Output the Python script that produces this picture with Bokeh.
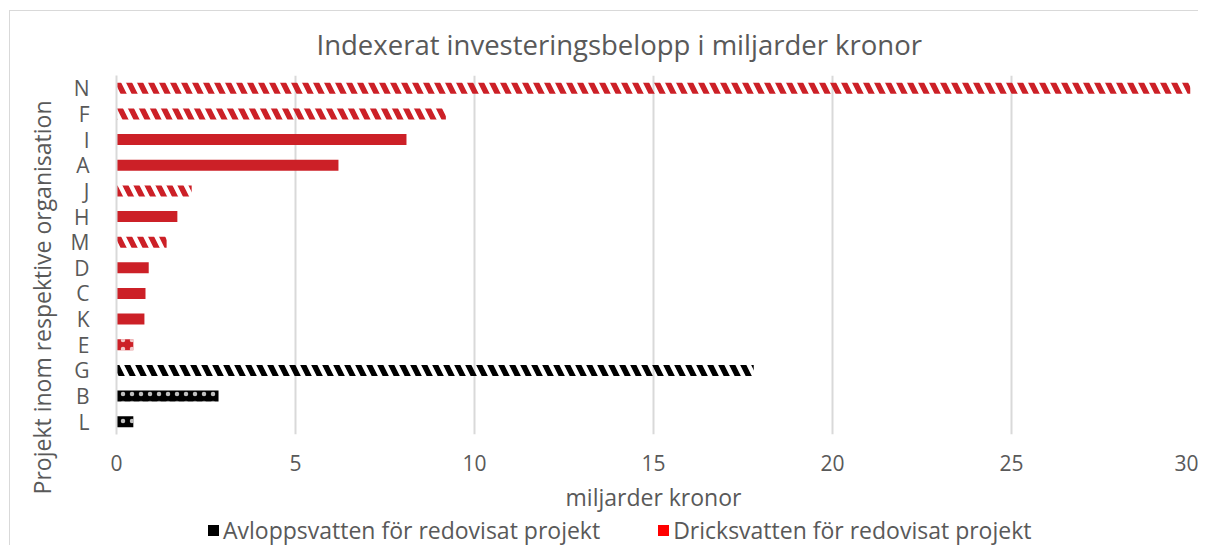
from bokeh.plotting import figure
from bokeh.layouts import column
from bokeh.models import ColumnDataSource, FactorRange, Range1d, FixedTicker, Div, Title
from bokeh.embed import file_html
from bokeh.resources import INLINE

# ---- data (top to bottom as in the chart) ----
projects = ["N", "F", "I", "A", "J", "H", "M", "D", "C", "K", "E", "G", "B", "L"]
values = [30.0, 9.2, 8.1, 6.2, 2.1, 1.7, 1.4, 0.9, 0.81, 0.78, 0.47, 17.8, 2.85, 0.47]
water_type = ["dricks"] * 11 + ["avlopp"] * 3
pattern_group = ["stripes", "stripes", "solid", "solid", "stripes", "solid", "stripes",
                 "solid", "solid", "solid", "dots", "stripes", "dots", "dots"]
x_ticks = [0, 5, 10, 15, 20, 25, 30]
title_text = "Indexerat investeringsbelopp i miljarder kronor"
x_label = "miljarder kronor"
y_label = "Projekt inom respektive organisation"
legend_labels = ["Avloppsvatten för redovisat projekt", "Dricksvatten för redovisat projekt"]
legend_colors = ["#000000", "#FF0000"]

BAR_RED = "#CC2027"
BAR_BLACK = "#000000"
TEXT = "#595959"
GRID = "#D9D9D9"
FONT = "Open Sans"

colors = [BAR_RED if t == "dricks" else BAR_BLACK for t in water_type]

p = figure(
    width=1188, height=504,
    y_range=FactorRange(factors=list(reversed(projects))),
    x_range=Range1d(0, 30),
    output_backend="svg", toolbar_location=None,
    min_border_left=106, min_border_right=8, min_border_top=64, min_border_bottom=78,
)
p.outline_line_color = None

def subset(group):
    idx = [i for i, g in enumerate(pattern_group) if g == group]
    return ColumnDataSource(dict(
        y=[projects[i] for i in idx],
        right=[values[i] for i in idx],
        color=[colors[i] for i in idx],
    ))

H = 0.43
p.hbar(y="y", right="right", left=0, height=H, source=subset("solid"),
       fill_color="color", line_color=None)
p.hbar(y="y", right="right", left=0, height=H, source=subset("stripes"),
       fill_alpha=0, line_color=None, hatch_pattern="left_diagonal_line",
       hatch_color="color", hatch_scale=22, hatch_weight=5.5)
p.hbar(y="y", right="right", left=0, height=H, source=subset("dots"),
       fill_color="color", line_color=None, hatch_pattern="dot",
       hatch_color="white", hatch_scale=9, hatch_weight=1, hatch_alpha=0.75)

# title
p.title.text = title_text
p.title.text_font = FONT
p.title.text_font_size = "27.5px"
p.title.text_font_style = "normal"
p.title.text_color = TEXT
p.title.align = "left"
p.title.offset = 200
p.title.standoff = 25

# axes
xa = p.xaxis[0]
xa.ticker = FixedTicker(ticks=x_ticks)
xa.axis_line_color = None
xa.major_tick_line_color = None
xa.minor_tick_line_color = None
xa.major_label_text_font = FONT
xa.major_label_text_font_size = "21px"
xa.major_label_text_color = TEXT
xa.major_label_standoff = 14
xa.axis_label = x_label
xa.axis_label_text_font = FONT
xa.axis_label_text_font_size = "23px"
xa.axis_label_text_font_style = "normal"
xa.axis_label_text_color = TEXT
xa.axis_label_standoff = 7

ya = p.yaxis[0]
ya.axis_line_color = GRID
ya.axis_line_width = 2
ya.major_tick_line_color = None
ya.minor_tick_line_color = None
ya.major_label_text_font = FONT
ya.major_label_text_font_size = "21px"
ya.major_label_text_color = TEXT
ya.major_label_standoff = 21

# vertical axis title, placed like the reference (ends near the top of the plot)
ytitle = Title(text=y_label, align="right", offset=25, standoff=20,
               text_font=FONT, text_font_size="23px", text_font_style="normal",
               text_color=TEXT)
p.add_layout(ytitle, "left")

p.xgrid.grid_line_color = GRID
p.xgrid.grid_line_width = 2
p.ygrid.grid_line_color = None

# legend row below the chart
swatch = ('<span style="display:inline-block;width:11px;height:11px;'
          'background:{c};margin-right:4px;{extra}"></span>')
items_html = "".join(
    swatch.format(c=c, extra=("margin-left:58px;" if i else "")) +
    f'<span>{lbl}</span>'
    for i, (lbl, c) in enumerate(zip(legend_labels, legend_colors))
)
legend_div = Div(
    text=f'<div style="display:flex;align-items:center;height:30px;'
         f'font-family:\'{FONT}\';font-size:23px;color:{TEXT};'
         f'padding-left:198px;white-space:nowrap">{items_html}</div>',
    width=1188, height=30, margin=0,
)

layout = column(p, legend_div, spacing=0, margin=(10, 0, 0, 9),
                styles={"border-left": "1px solid #D9D9D9", "border-top": "1px solid #D9D9D9"})

open("out.html", "w").write(file_html(layout, INLINE))
